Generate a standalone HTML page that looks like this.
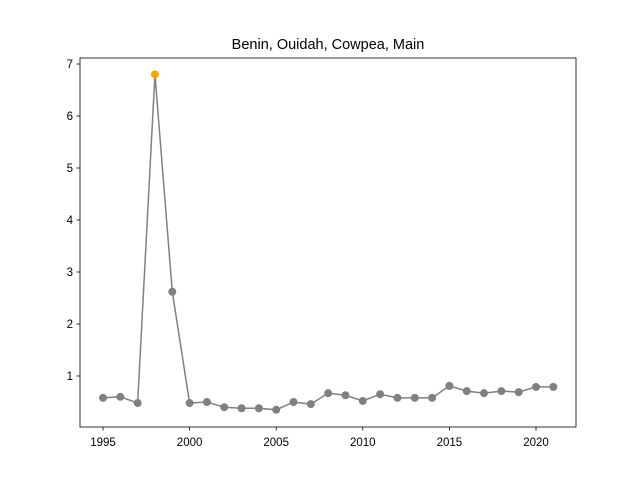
<!DOCTYPE html>
<html><head><meta charset="utf-8"><style>
body{margin:0;background:#fff;}
svg{display:block;font-family:"Liberation Sans","DejaVu Sans",sans-serif;}
</style></head><body>
<svg id="chart" width="640" height="480">
<rect x="0" y="0" width="640" height="480" fill="#fff"/>
<text x="328" y="49" text-anchor="middle" font-size="14.5">Benin, Ouidah, Cowpea, Main</text>
<g id="marks"></g>
<g id="axes"></g>
<rect x="80" y="58" width="496" height="369" fill="none" stroke="#000" stroke-width="0.8"/>
</svg>
<script>
const years = [1995,1996,1997,1998,1999,2000,2001,2002,2003,2004,2005,2006,2007,2008,2009,2010,2011,2012,2013,2014,2015,2016,2017,2018,2019,2020,2021];
const values = [0.58,0.60,0.48,6.8,2.62,0.48,0.50,0.40,0.38,0.38,0.35,0.50,0.46,0.67,0.63,0.52,0.65,0.58,0.58,0.58,0.81,0.71,0.67,0.71,0.69,0.79,0.79];
const highlightYear = 1998;
const xTicks = [1995,2000,2005,2010,2015,2020];
const yTicks = [1,2,3,4,5,6,7];

const NS = "http://www.w3.org/2000/svg";
function xS(v){ return 103 + (v-1995)*(536-103)/25; }
function yS(v){ return 428 - v*52; }
const marks = document.getElementById('marks');
const axes = document.getElementById('axes');
function mk(tag, attrs, parent){ const e=document.createElementNS(NS,tag); for(const k in attrs) e.setAttribute(k,attrs[k]); parent.appendChild(e); return e; }

const line = mk('polyline',{points: years.map((y,i)=>xS(y)+','+yS(values[i])).join(' '), fill:'none', stroke:'#808080', 'stroke-width':1.5}, marks);


years.forEach((y,i)=>{
  const c = mk('circle',{cx:xS(y), cy:yS(values[i]), r:4, fill: y===highlightYear ? '#ffa500' : '#808080'}, marks);
  
  
});
xTicks.forEach(t=>{
  const x=xS(t);
  mk('line',{x1:x,x2:x,y1:427,y2:430.5,stroke:'#000','stroke-width':0.8},axes);
  const tx=mk('text',{x:x,y:446,'text-anchor':'middle','font-size':11.5},axes);
  tx.textContent=t;
  
  
});
yTicks.forEach(t=>{
  const y=yS(t);
  mk('line',{x1:76.5,x2:80,y1:y,y2:y,stroke:'#000','stroke-width':0.8},axes);
  const tx=mk('text',{x:73,y:y+4,'text-anchor':'end','font-size':11.5},axes);
  tx.textContent=t;
  
  
});
</script>
</body></html>
